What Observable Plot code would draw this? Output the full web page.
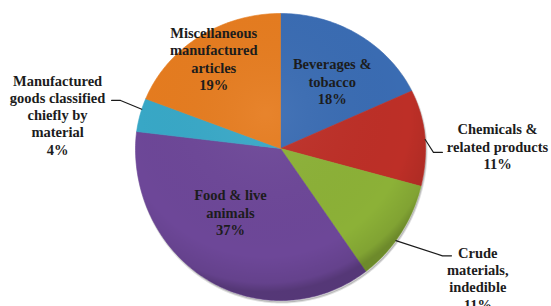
<!DOCTYPE html>
<html>
<head>
<meta charset="utf-8">
<script src="https://cdn.jsdelivr.net/npm/d3@7"></script>
<script src="https://cdn.jsdelivr.net/npm/@observablehq/plot@0.6"></script>
<style>
  html, body { margin: 0; padding: 0; background: #ffffff; }
  #chart svg { display: block; }
</style>
</head>
<body>
<div id="chart"></div>
<script>
// ---- data ----
const categories = [
  "Beverages & tobacco",
  "Chemicals & related products",
  "Crude materials, indedible",
  "Food & live animals",
  "Manufactured goods classified chiefly by material",
  "Miscellaneous manufactured articles"
];
const shares = [18, 11, 11, 37, 4, 19];
const labelLines = [
  "Beverages &\ntobacco",
  "Chemicals &\nrelated products",
  "Crude\nmaterials,\nindedible",
  "Food & live\nanimals",
  "Manufactured\ngoods classified\nchiefly by\nmaterial",
  "Miscellaneous\nmanufactured\narticles"
];
const colors = ["#3a6cb3", "#bd2f27", "#8cb137", "#6d4798", "#38a8c7", "#e67c1f"];

// ---- layout (label placement relative to each slice) ----
const labelRadius = [0.614, 1.497, 1.606, 0.543, 1.558, 0.811];
const labelTurn   = [3.1, 4.7, -2.1, 8.9, -5.1, -0.4];
// leader lines for outside labels: [index, startTurn, elbowAngle, elbowRadius]
const leaders = [
  [1, 1.6, 91.4, 1.055],
  [2, 3.1, 122.3, 1.322],
  [4, 2.5, 287.9, 1.159]
];
const tilt = 1.126; // lower half of the tilted pie is drawn taller

const rad = Math.PI / 180;
const polar = (deg, r) => {
  const y = r * Math.cos(deg * rad);
  return {x: r * Math.sin(deg * rad), y: y < 0 ? y * tilt : y};
};

const arcs = d3.pie().sort(null).value(d => d)(shares);
const slicePts = [];
const rimPts = [];
arcs.forEach((a, i) => {
  const a0 = a.startAngle / rad, a1 = a.endAngle / rad;
  slicePts.push({cat: categories[i], x: 0, y: 0});
  const n = Math.max(2, Math.ceil(a1 - a0));
  for (let k = 0; k <= n; k++) {
    const p = polar(a0 + (a1 - a0) * k / n, 1);
    slicePts.push({cat: categories[i], x: p.x, y: p.y});
    rimPts.push({x: p.x, y: p.y});
  }
  slicePts.push({cat: categories[i], x: 0, y: 0});
});

const labelData = arcs.map((a, i) => {
  const mid = (a.startAngle + a.endAngle) / 2 / rad;
  const p = polar(mid + labelTurn[i], labelRadius[i]);
  return {text: labelLines[i] + "\n" + shares[i] + "%", x: p.x, y: p.y};
});

const leaderPts = [];
leaders.forEach(([i, turn, ea, er]) => {
  const a = arcs[i];
  const mid = (a.startAngle + a.endAngle) / 2 / rad;
  const s = polar(mid + turn, 1.0);
  const e = polar(ea, er);
  const dir = Math.sign(e.x);
  leaderPts.push({id: i, x: s.x, y: s.y}, {id: i, x: e.x, y: e.y}, {id: i, x: e.x + dir * 0.062, y: e.y});
});

const chart = Plot.plot({
  width: 551,
  height: 306,
  marginTop: 0, marginRight: 0, marginBottom: 0, marginLeft: 0,
  style: {background: "#ffffff", overflow: "visible"},
  x: {type: "linear", domain: [-1, 1], range: [135, 425], axis: null},
  y: {type: "linear", domain: [-tilt, 1], range: [300, 13], axis: null},
  color: {type: "ordinal", domain: categories, range: colors},
  marks: [
    // soft shadow under the pie
    Plot.line(rimPts, {x: "x", y: "y", fill: "#000", fillOpacity: 0.18, stroke: "#000", strokeOpacity: 0.12, strokeWidth: 2, dy: 2, dx: 1}),
    Plot.line(slicePts, {x: "x", y: "y", z: "cat", fill: "cat", stroke: "cat", strokeWidth: 0.6}),
    // lighting overlay
    Plot.line(rimPts, {x: "x", y: "y", fill: "url(#pieShade)", stroke: "none"}),
    Plot.line(leaderPts, {x: "x", y: "y", z: "id", stroke: "#1a1a1a", strokeWidth: 1.1}),
    Plot.text(labelData, {
      x: "x", y: "y", text: "text",
      fontFamily: "Liberation Serif", fontWeight: "bold", fontSize: 14.5,
      lineHeight: 1.19, fill: "#1c1c1c", textAnchor: "middle", lineAnchor: "middle"
    })
  ]
});
const ns = "http://www.w3.org/2000/svg";
const defs = document.createElementNS(ns, "defs");
defs.innerHTML = `
  <radialGradient id="pieShade" cx="0.45" cy="0.35" r="0.62">
    <stop offset="0" stop-color="#ffffff" stop-opacity="0.06"/>
    <stop offset="0.8" stop-color="#000000" stop-opacity="0"/>
    <stop offset="0.95" stop-color="#000000" stop-opacity="0.08"/>
    <stop offset="1" stop-color="#000000" stop-opacity="0.22"/>
  </radialGradient>`;
chart.insertBefore(defs, chart.firstChild);
document.getElementById("chart").appendChild(chart);
</script>
</body>
</html>
